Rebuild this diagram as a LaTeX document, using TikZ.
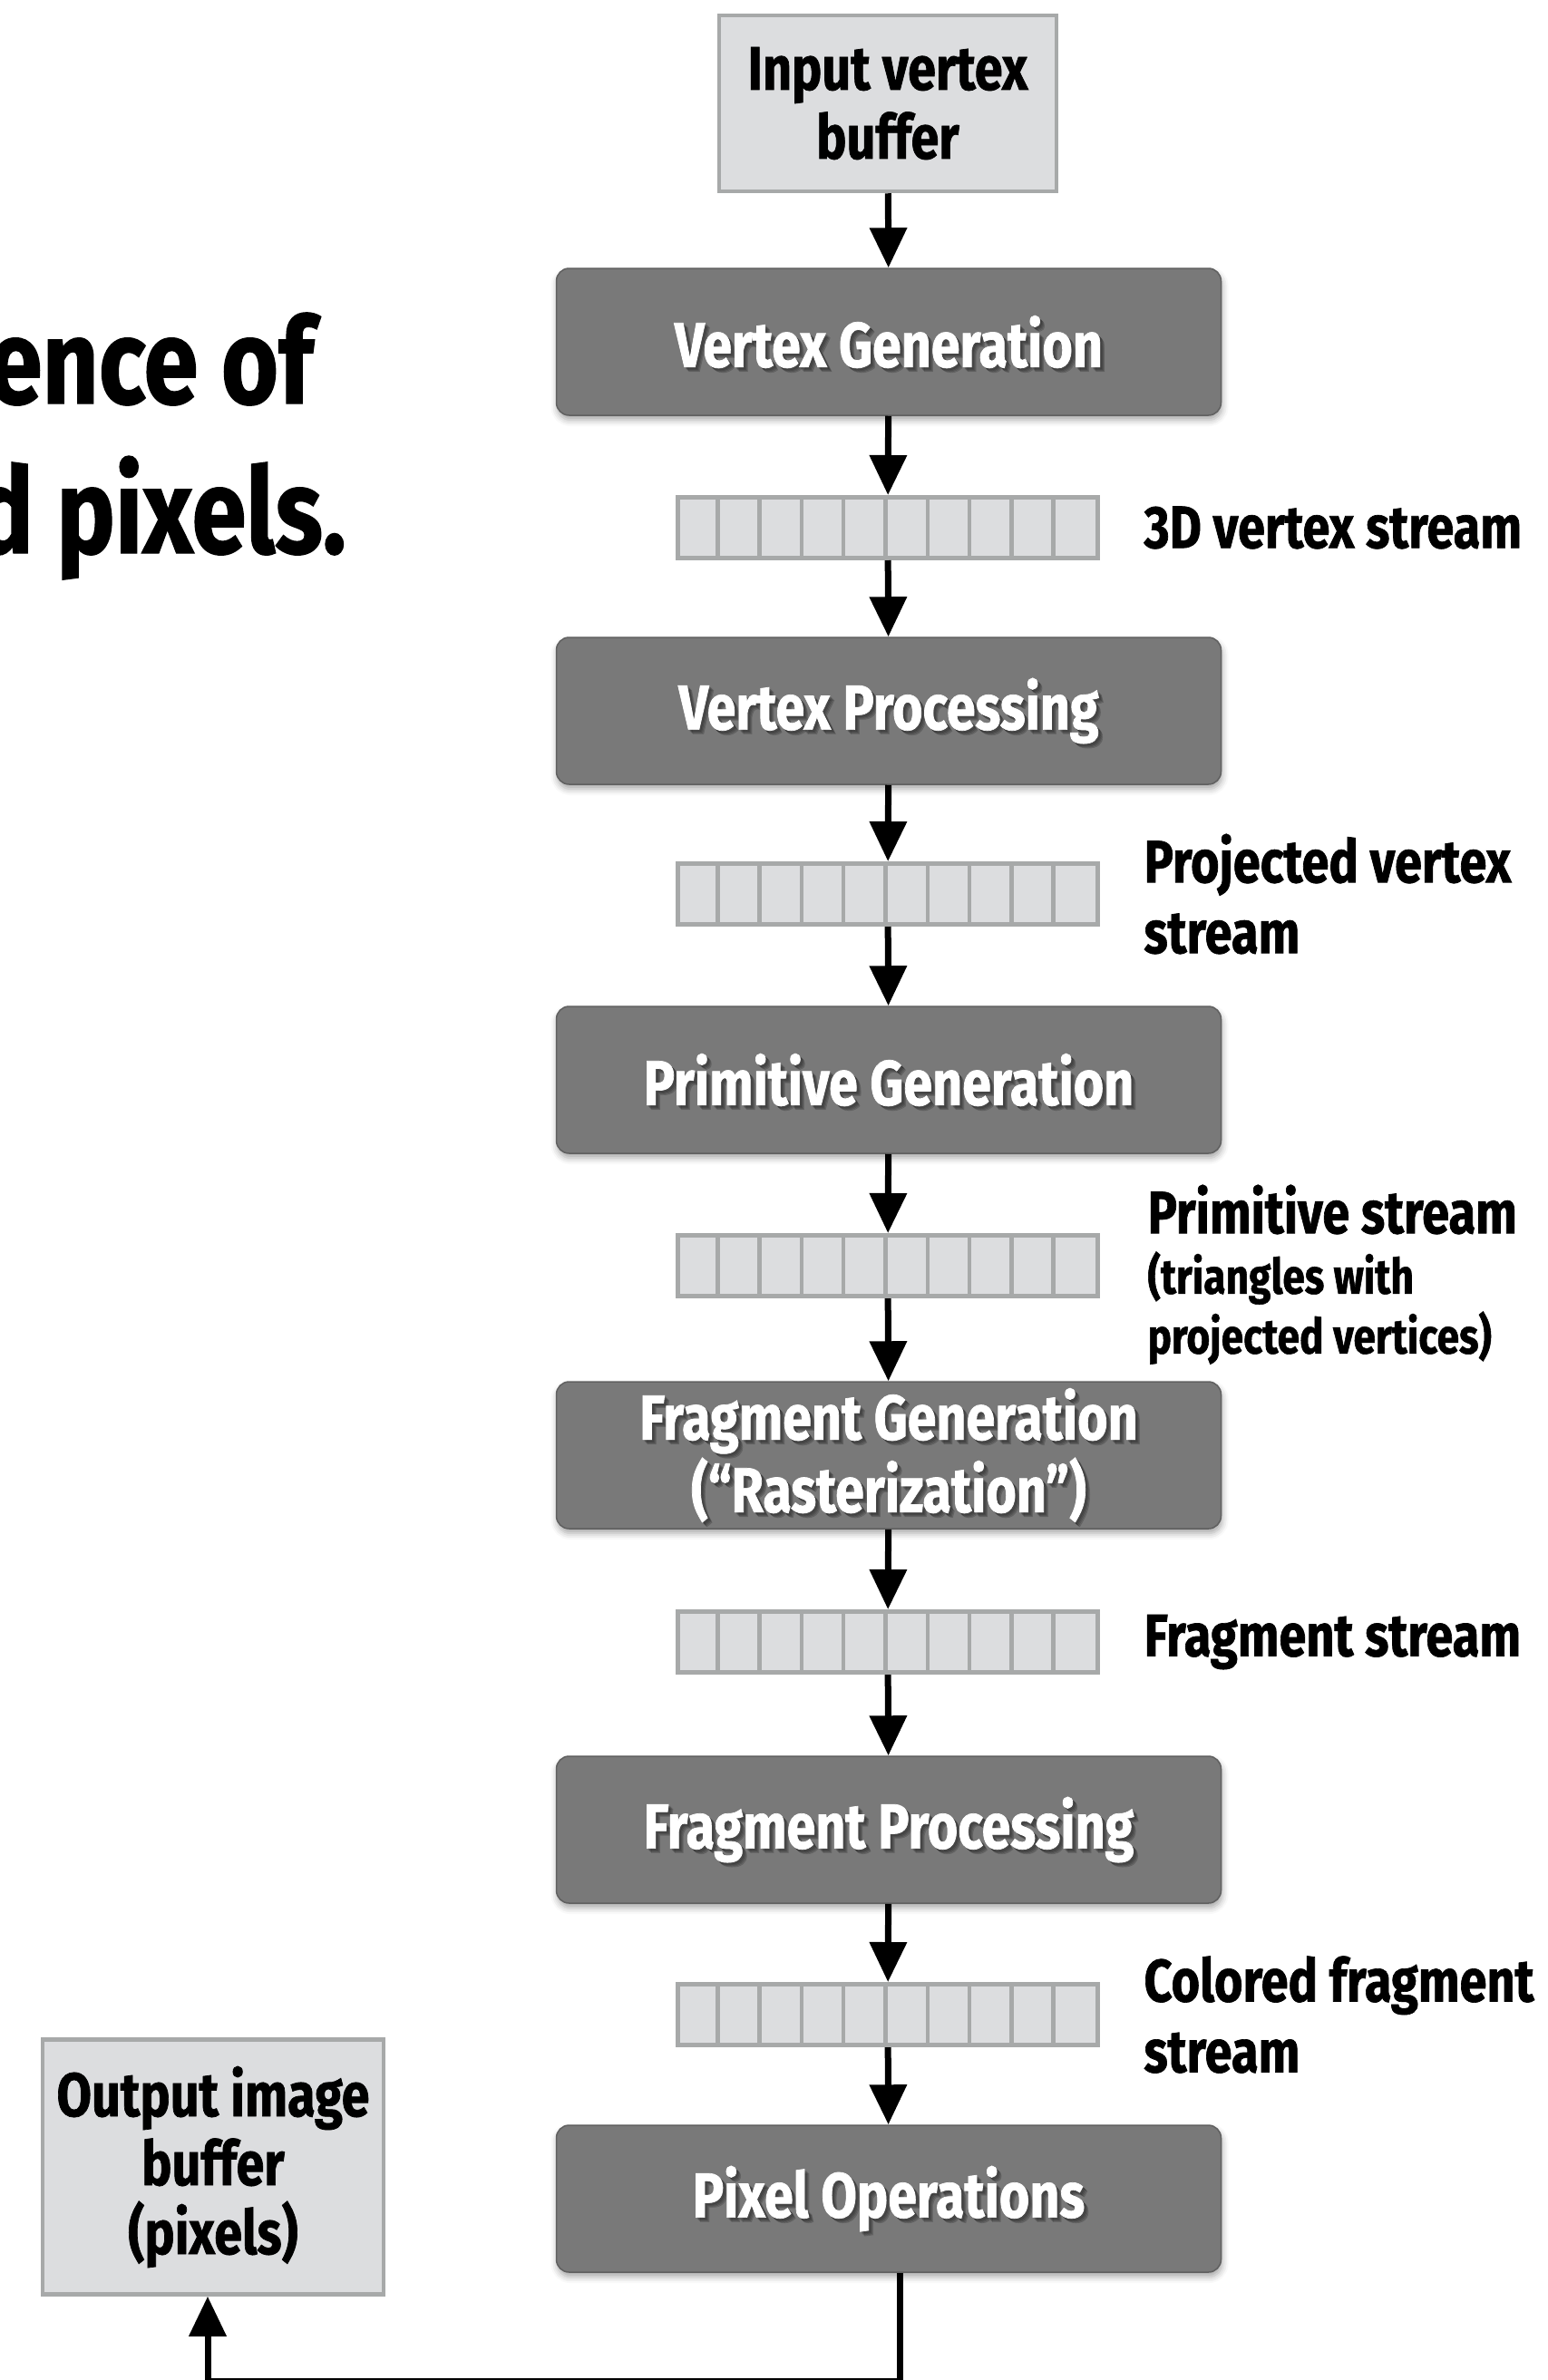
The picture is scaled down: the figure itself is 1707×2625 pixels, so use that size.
\documentclass[tikz,border=0pt]{standalone}
\usepackage{fontspec}
\setmainfont{Fira Sans}[FakeStretch=0.82, BoldFeatures={FakeBold=1}]
\usetikzlibrary{arrows.meta,shadows.blur}

\definecolor{stagefill}{RGB}{121,121,121}
\definecolor{stageline}{RGB}{96,96,96}
\definecolor{buffill}{RGB}{220,221,223}
\definecolor{bufline}{RGB}{167,169,169}

\tikzset{
  stage/.style={draw=stageline, fill=stagefill, line width=1.5pt, rounded corners=14pt,
    minimum width=733pt, minimum height=162pt,
    blur shadow={shadow xshift=1pt, shadow yshift=-5pt, shadow blur radius=7pt, shadow opacity=35}},
  stagetext/.style={text=white, align=center, font=\bfseries\fontsize{70}{80}\selectfont},
  buffer/.style={draw=bufline, fill=buffill, line width=4.5pt, align=center,
    font=\bfseries\fontsize{68}{76}\selectfont},
  stream/.style={draw=bufline, fill=buffill, line width=5pt, inner sep=0pt,
    minimum width=463pt, minimum height=67pt},
  streamlabel/.style={anchor=west, align=left, font=\bfseries\fontsize{66}{78}\selectfont},
  flow/.style={line width=7pt, -{Triangle[length=44pt,width=40pt]}},
}

\begin{document}
\begin{tikzpicture}[x=1pt, y=-1pt]
  \useasboundingbox (0,0) rectangle (1707,2625);

  % title, running off the left edge
  \node[anchor=base east, inner sep=0pt, font=\bfseries\fontsize{132}{160}\selectfont] (t1) at (346,445) {ence of};
  \node[anchor=base east, inner sep=0pt, font=\bfseries\fontsize{132}{160}\selectfont] (t2) at (382,610) {d pixels.};

  % buffers at both ends
  \node[buffer, minimum width=372pt, minimum height=194pt] (ib) at (979,114) {Input vertex\\buffer};
  \node[buffer, minimum width=376pt, minimum height=281pt] (ob) at (235,2390) {Output image\\buffer\\(pixels)};

  % pipeline stages, white text with a soft shadow
  \foreach \n/\y/\txt in {vg/377/Vertex Generation, vp/784/Vertex Processing,
      pg/1191/Primitive Generation, fg/1605/{Fragment Generation\\(“Rasterization”)},
      fp/2018/Fragment Processing, po/2425/Pixel Operations}{
    \node[stage] (\n) at (980,\y) {};
    \foreach \d in {2,3,4,5}
      \node[stagetext, text=black, opacity=.12] at ([shift={(\d,\d)}]\n.center) {\txt};
    \node[stagetext] (\n txt) at (\n.center) {\txt};
  }

  % streams between stages
  \foreach \n/\y in {s1/582, s2/986, s3/1396, s4/1811, s5/2222}{
    \node[stream] (\n) at (979,\y) {};
    \foreach \k in {1,...,9}
      \draw[bufline, line width=4.5pt] ([xshift=\k*46.3pt]\n.north west) -- ([xshift=\k*46.3pt]\n.south west);
  }

  \node[streamlabel] (l1) at ([xshift=45pt]s1.east) {3D vertex stream};
  \node[streamlabel] (l2) at ([xshift=45pt]s2.east) {Projected vertex\\stream};
  \node[streamlabel] (l3) at (1262,1334) {Primitive stream};
  \node[anchor=north west, align=left, font=\bfseries\fontsize{54}{66}\selectfont] (l3b) at ([yshift=-12pt]l3.south west) {(triangles with\\projected vertices)};
  \node[streamlabel] (l4) at ([xshift=45pt]s4.east) {Fragment stream};
  \node[streamlabel] (l5) at ([xshift=45pt]s5.east) {Colored fragment\\stream};

  % connectors
  \draw[flow] (ib) -- (vg);
  \draw[flow] (vg) -- (s1);
  \draw[flow] (s1) -- (vp);
  \draw[flow] (vp) -- (s2);
  \draw[flow] (s2) -- (pg);
  \draw[flow] (pg) -- (s3);
  \draw[flow] (s3) -- (fg);
  \draw[flow] (fg) -- (s4);
  \draw[flow] (s4) -- (fp);
  \draw[flow] (fp) -- (s5);
  \draw[flow] (s5) -- (po);
  \coordinate (corner) at (229,2626.5);
  \draw[flow] ([xshift=12pt]po.south) |- (corner) -- (corner |- ob.south);
\end{tikzpicture}
\end{document}
